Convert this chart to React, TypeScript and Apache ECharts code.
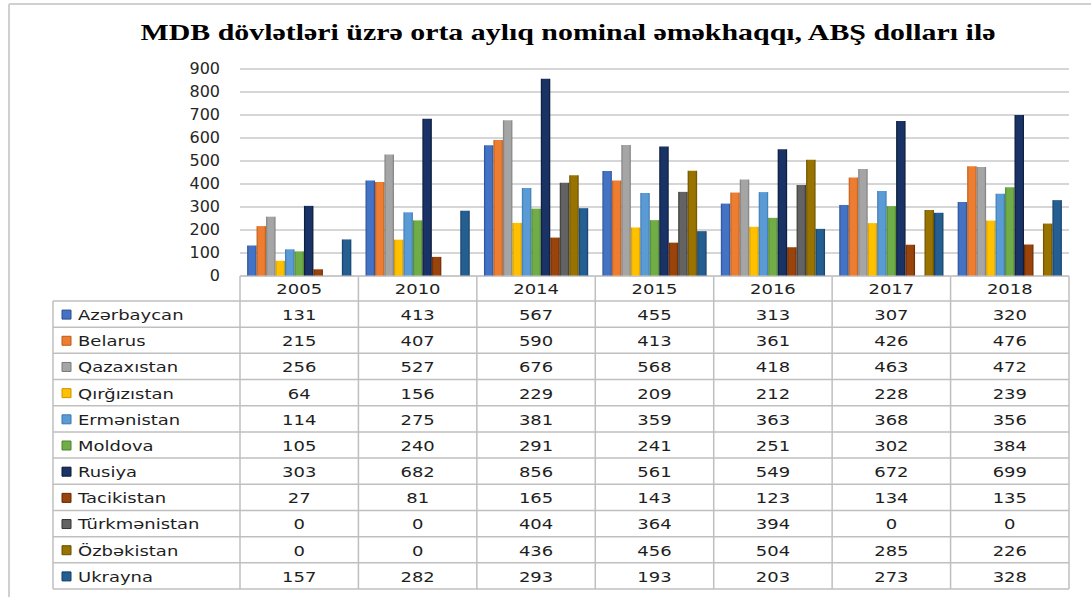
import React, { useEffect, useRef } from "react";
import * as echarts from "echarts";

const titleText = "MDB dövlətləri üzrə orta aylıq nominal əməkhaqqı, ABŞ dolları ilə";
const years = ["2005", "2010", "2014", "2015", "2016", "2017", "2018"];
const countries = [
  "Azərbaycan", "Belarus", "Qazaxıstan", "Qırğızıstan", "Ermənistan", "Moldova",
  "Rusiya", "Tacikistan", "Türkmənistan", "Özbəkistan", "Ukrayna",
];
const azerbaycan = [131, 413, 567, 455, 313, 307, 320];
const belarus = [215, 407, 590, 413, 361, 426, 476];
const qazaxistan = [256, 527, 676, 568, 418, 463, 472];
const qirgizistan = [64, 156, 229, 209, 212, 228, 239];
const ermenistan = [114, 275, 381, 359, 363, 368, 356];
const moldova = [105, 240, 291, 241, 251, 302, 384];
const rusiya = [303, 682, 856, 561, 549, 672, 699];
const tacikistan = [27, 81, 165, 143, 123, 134, 135];
const turkmenistan = [0, 0, 404, 364, 394, 0, 0];
const ozbekistan = [0, 0, 436, 456, 504, 285, 226];
const ukrayna = [157, 282, 293, 193, 203, 273, 328];
const seriesValues = [
  azerbaycan, belarus, qazaxistan, qirgizistan, ermenistan, moldova,
  rusiya, tacikistan, turkmenistan, ozbekistan, ukrayna,
];
const colors = [
  "#4472C4", "#ED7D31", "#A5A5A5", "#FFC000", "#5B9BD5", "#70AD47",
  "#1A3366", "#9A440C", "#636363", "#997300", "#255E91",
];
const edgeColors = [
  "#2A4E8F", "#B85A1C", "#7A7A7A", "#C99500", "#3A76AE", "#4E8230",
  "#081630", "#5E2804", "#333333", "#664C00", "#123C63",
];

const W = 1091;
const H = 597;
const plotLeft = 240;
const plotRight = 1069;
const plotTop = 68.7;
const plotBottom = 275.5;
const tableLeft = 53;
const headerTop = 276;
const rowsTop = 301;
const tableBottom = 589;
const lineColor = "#BFBFBF";
const textColor = "#1E1E1E";
const textFont = '14.5px "DejaVu Sans"';
const stretch = 1.24;

export default function App() {
  const ref = useRef<HTMLDivElement>(null);
  useEffect(() => {
    if (!ref.current) return;
    const chart = echarts.init(ref.current, undefined, { renderer: "svg" });
    const colW = (plotRight - plotLeft) / years.length;
    const rowH = (tableBottom - rowsTop) / countries.length;
    const graphics: any[] = [];
    // outer frame
    graphics.push({ type: "line", shape: { x1: 9, y1: 4, x2: W, y2: 4 }, style: { stroke: "#D0D0D0", lineWidth: 2 } });
    graphics.push({ type: "line", shape: { x1: 9, y1: 4, x2: 9, y2: H }, style: { stroke: "#D0D0D0", lineWidth: 2 } });
    // title
    graphics.push({
      type: "text", x: 568, y: 32, scaleX: 1.3,
      style: { text: titleText, x: 0, y: 0, textAlign: "center", textVerticalAlign: "middle", font: 'bold 23px "Liberation Serif"', fill: "#000" },
    });
    // table lines: horizontals
    graphics.push({ type: "line", shape: { x1: plotLeft, y1: headerTop, x2: plotRight, y2: headerTop }, style: { stroke: lineColor, lineWidth: 1.5 } });
    for (let r = 0; r <= countries.length; r++) {
      const y = rowsTop + r * rowH;
      graphics.push({ type: "line", shape: { x1: tableLeft, y1: y, x2: plotRight, y2: y }, style: { stroke: lineColor, lineWidth: 1.5 } });
    }
    // verticals
    graphics.push({ type: "line", shape: { x1: tableLeft, y1: rowsTop, x2: tableLeft, y2: tableBottom }, style: { stroke: lineColor, lineWidth: 1.5 } });
    for (let c = 0; c <= years.length; c++) {
      const x = plotLeft + c * colW;
      graphics.push({ type: "line", shape: { x1: x, y1: headerTop, x2: x, y2: tableBottom }, style: { stroke: lineColor, lineWidth: 1.5 } });
    }
    // header texts
    years.forEach((yr, c) => {
      graphics.push({
        type: "text", x: plotLeft + (c + 0.5) * colW, y: (headerTop + rowsTop) / 2 + 1, scaleX: stretch,
        style: { text: yr, x: 0, y: 0, textAlign: "center", textVerticalAlign: "middle", font: textFont, fill: textColor },
      });
    });
    // rows
    countries.forEach((name, r) => {
      const cy = rowsTop + (r + 0.5) * rowH + 1;
      graphics.push({
        type: "rect", shape: { x: 62, y: cy - 5, width: 9, height: 9 },
        style: { fill: colors[r], stroke: edgeColors[r], lineWidth: 1 },
      });
      graphics.push({
        type: "text", x: 78, y: cy, scaleX: stretch,
        style: { text: name, x: 0, y: 0, textAlign: "left", textVerticalAlign: "middle", font: textFont, fill: textColor },
      });
      seriesValues[r].forEach((v, c) => {
        graphics.push({
          type: "text", x: plotLeft + (c + 0.5) * colW, y: cy, scaleX: stretch,
          style: { text: String(v), x: 0, y: 0, textAlign: "center", textVerticalAlign: "middle", font: textFont, fill: textColor },
        });
      });
    });

    chart.setOption({
      animation: false,
      backgroundColor: "#FFFFFF",
      grid: { left: plotLeft, right: W - plotRight, top: plotTop, bottom: H - plotBottom, containLabel: false },
      xAxis: {
        type: "category",
        data: years,
        axisLine: { show: false },
        axisTick: { show: false },
        axisLabel: { show: false },
      },
      yAxis: {
        type: "value",
        min: 0,
        max: 900,
        interval: 100,
        axisLine: { show: false },
        axisTick: { show: false },
        axisLabel: { fontFamily: "DejaVu Sans", fontSize: 16, color: "#262626", margin: 20 },
        splitLine: { lineStyle: { color: "#C8C8C8", width: 1.5 } },
      },
      series: countries.map((name, i) => ({
        name,
        type: "bar",
        data: seriesValues[i],
        barGap: "0%",
        barCategoryGap: "12%",
        itemStyle: {
          color: new echarts.graphic.LinearGradient(0, 0, 1, 0, [
            { offset: 0, color: edgeColors[i] },
            { offset: 0.2, color: colors[i] },
            { offset: 0.8, color: colors[i] },
            { offset: 1, color: edgeColors[i] },
          ]),
        },
      })),
      graphic: graphics,
    });
    return () => chart.dispose();
  }, []);
  return <div ref={ref} style={{ position: "fixed", left: 0, top: 0, width: W, height: H }} />;
}
